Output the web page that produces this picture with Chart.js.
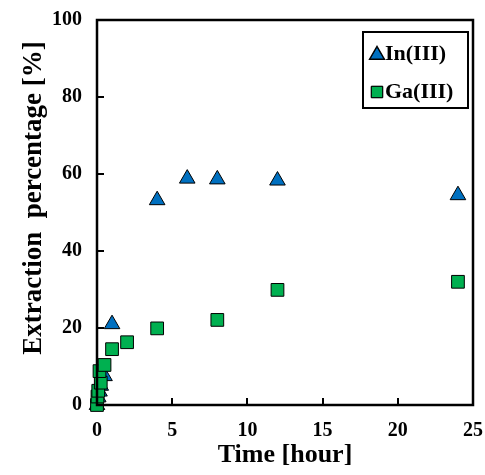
<!DOCTYPE html>
<html>
<head>
<meta charset="utf-8">
<script src="https://cdn.jsdelivr.net/npm/chart.js@4/dist/chart.umd.min.js"></script>
<style>
  html, body { margin: 0; padding: 0; background: #fff; }
  #wrap { width: 485px; height: 475px; }
</style>
</head>
<body>
<div id="wrap"><canvas id="chart" width="485" height="475"></canvas></div>
<script>
// Data
const seriesNames = ['In(III)', 'Ga(III)'];
const inTime = [0, 0.083, 0.167, 0.25, 0.5, 1, 4, 6, 8, 12, 24];
const inPct  = [0, 2.0, 3.5, 5.0, 7.5, 21.0, 53.2, 58.8, 58.6, 58.3, 54.5];
const gaTime = [0, 0.033, 0.083, 0.25, 0.167, 0.5, 1, 2, 4, 8, 12, 24];
const gaPct  = [0, 2.2, 3.7, 5.8, 8.8, 10.4, 14.5, 16.3, 19.9, 22.1, 29.9, 32.0];
const xTicks = [0, 5, 10, 15, 20, 25];
const yTicks = [0, 20, 40, 60, 80, 100];

const FONT = "'Liberation Serif', 'Times New Roman', serif";

const toPoints = (xs, ys) => xs.map((x, i) => ({ x: x, y: ys[i] }));

// frame, inside ticks, y title and boxed legend
const decor = {
    id: 'decor',
    afterDraw(chart) {
        const ctx = chart.ctx;
        const a = chart.chartArea;
        const xs = chart.scales.x, ys = chart.scales.y;
        ctx.save();
        ctx.strokeStyle = '#000';
        ctx.lineWidth = 2;
        ctx.beginPath();
        xTicks.forEach(v => {
            const px = Math.round(xs.getPixelForValue(v));
            ctx.moveTo(px, a.bottom);
            ctx.lineTo(px, a.bottom - 7);
        });
        yTicks.forEach(v => {
            const py = Math.round(ys.getPixelForValue(v));
            ctx.moveTo(a.left, py);
            ctx.lineTo(a.left + 7, py);
        });
        ctx.stroke();
        ctx.lineWidth = 2.5;
        ctx.strokeRect(a.left, a.top, a.right - a.left, a.bottom - a.top);

        // y axis title
        ctx.fillStyle = '#000';
        ctx.font = 'bold 27px ' + FONT;
        ctx.textAlign = 'center';
        ctx.textBaseline = 'middle';
        ctx.translate(34, 198);
        ctx.rotate(-Math.PI / 2);
        ctx.fillText('Extraction  percentage [%]', 0, 0);
        ctx.restore();

        // legend box
        ctx.save();
        ctx.strokeStyle = '#000';
        ctx.lineWidth = 2;
        ctx.strokeRect(363, 32, 105, 76);
        ctx.font = 'bold 22px ' + FONT;
        ctx.textAlign = 'left';
        ctx.textBaseline = 'middle';
        chart.data.datasets.forEach((ds, i) => {
            const cy = 54 + i * 38;
            Chart.helpers.drawPoint(ctx, {
                pointStyle: ds.pointStyle,
                radius: 8,
                borderWidth: 1
            }, 377, cy + (ds.pointStyle === 'triangle' ? 1 : 0));
            ctx.fillStyle = ds.backgroundColor;
            ctx.strokeStyle = '#000';
            ctx.lineWidth = 1;
            ctx.fill();
            ctx.stroke();
            ctx.fillStyle = '#000';
            ctx.fillText(seriesNames[i], 385, cy);
        });
        ctx.restore();
    }
};

new Chart(document.getElementById('chart').getContext('2d'), {
    type: 'scatter',
    data: {
        datasets: [
            {
                label: seriesNames[0],
                data: toPoints(inTime, inPct),
                pointStyle: 'triangle',
                pointRadius: 9,
                backgroundColor: '#0070C0',
                borderColor: '#000',
                borderWidth: 1,
                order: 1,
                clip: false
            },
            {
                label: seriesNames[1],
                data: toPoints(gaTime, gaPct),
                pointStyle: 'rect',
                pointRadius: 9,
                backgroundColor: '#00B050',
                borderColor: '#000',
                borderWidth: 1,
                order: 0,
                clip: false
            }
        ]
    },
    options: {
        responsive: false,
        animation: false,
        layout: { padding: { top: 20, right: 12, left: 0, bottom: 0 } },
        plugins: {
            legend: { display: false },
            tooltip: { enabled: false }
        },
        scales: {
            x: {
                type: 'linear',
                min: 0,
                max: 25,
                afterBuildTicks: s => { s.ticks = xTicks.map(v => ({ value: v })); },
                afterFit: s => { s.height = 70; s.paddingLeft = 0; s.paddingRight = 0; },
                grid: { display: false, drawTicks: false },
                border: { display: false },
                ticks: {
                    color: '#000',
                    padding: 14,
                    font: { family: FONT, size: 20, weight: 'bold' }
                },
                title: {
                    display: true,
                    text: 'Time [hour]',
                    color: '#000',
                    padding: { top: 2 },
                    font: { family: FONT, size: 26, weight: 'bold' }
                }
            },
            y: {
                type: 'linear',
                min: 0,
                max: 100,
                afterBuildTicks: s => { s.ticks = yTicks.map(v => ({ value: v })); },
                afterFit: s => { s.width = 97; s.paddingTop = 0; s.paddingBottom = 0; },
                grid: { display: false, drawTicks: false },
                border: { display: false },
                ticks: {
                    color: '#000',
                    padding: 15,
                    font: { family: FONT, size: 20, weight: 'bold' }
                }
            }
        }
    },
    plugins: [decor]
});
</script>
</body>
</html>
